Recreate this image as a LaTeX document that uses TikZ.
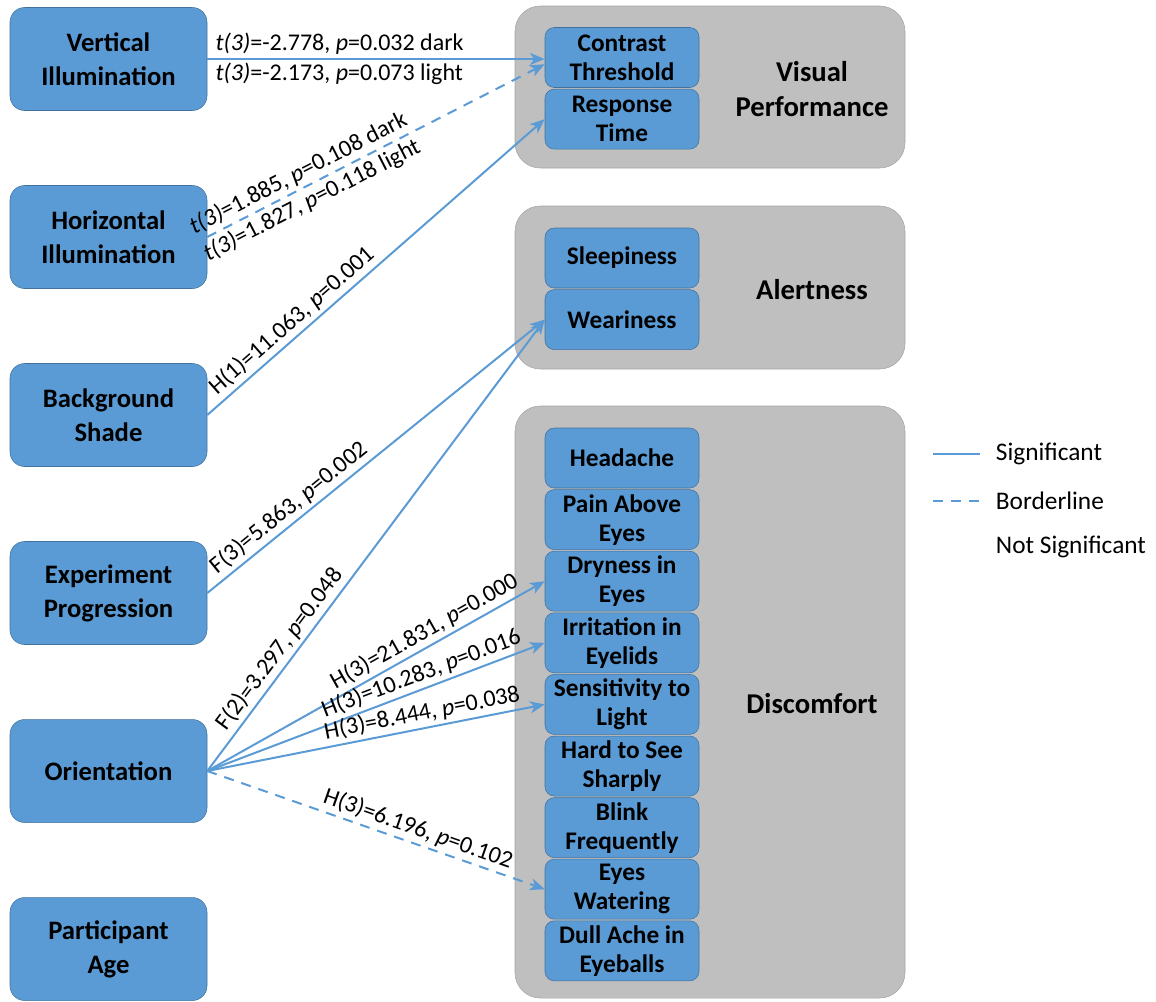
\documentclass[tikz,border=0pt]{standalone}
\usepackage{fontspec}
\setmainfont{Carlito}
\usetikzlibrary{arrows.meta,positioning}
\definecolor{boxblue}{HTML}{5B9BD5}
\definecolor{boxline}{HTML}{41719C}
\definecolor{groupgray}{HTML}{BFBFBF}
\definecolor{groupline}{HTML}{A5A5A5}

\begin{document}
\begin{tikzpicture}[->,>={Stealth[length=11pt,width=9pt,inset=3pt]},x=0.75pt,y=-0.75pt,node distance=133.5pt]
      \tikzstyle{factor}=[rectangle,rounded corners=11pt,fill=boxblue,draw=boxline,text=black,minimum width=147.75pt,minimum height=77.25pt,align=center,font=\fontsize{20}{25.5}\selectfont\bfseries]
      \tikzstyle{measure}=[rectangle,rounded corners=7pt,fill=boxblue,draw=boxline,text=black,minimum width=115.5pt,minimum height=45pt,align=center,font=\fontsize{19}{21.75}\selectfont\bfseries,node distance=46.2pt]
      \tikzstyle{group}=[rectangle,rounded corners=19pt,fill=groupgray,draw=groupline,minimum width=292.5pt]
      \tikzstyle{title}=[align=center,font=\fontsize{21.5}{26}\selectfont\bfseries]
      \tikzstyle{sig}=[draw=boxblue,line width=1.5pt]
      \tikzstyle{border}=[sig,dash pattern=on 7.5pt off 6pt]
      \tikzstyle{stat}=[font=\fontsize{18}{19.5}\selectfont,inner sep=2.5pt]
      \tikzstyle{legend}=[font=\fontsize{19}{22}\selectfont,inner sep=2pt,anchor=west]
      \useasboundingbox (0,0) rectangle (1156,1001);

      % factors
      \node[factor]         (VI) at (108.5,59) {Vertical\\Illumination};
      \node[factor]         (HI) [below of=VI] {Horizontal\\Illumination};
      \node[factor]         (BS) [below of=HI] {Background\\Shade};
      \node[factor]         (EP) [below of=BS] {Experiment\\Progression};
      \node[factor]         (OR) [below of=EP] {Orientation};
      \node[factor]         (PA) [below of=OR] {Participant\\Age};

      % groups
      \node[group,minimum height=121.5pt] (VPgroup) at (710,87) {};
      \node[group,minimum height=122.25pt] (ALgroup) at (710,287.5) {};
      \node[group,minimum height=444pt] (DCgroup) at (710,702) {};
      \node[title] (VPtitle) at (812,89) {Visual\\Performance};
      \node[title] (ALtitle) at (812,290) {Alertness};
      \node[title] (DCtitle) at (812,704) {Discomfort};

      % outcomes
      \node[measure]         (CT) at (622,57.5) {Contrast\\Threshold};
      \node[measure]         (RT) [below of=CT] {Response\\Time};
      \node[measure]         (SL) at (622,258)  {Sleepiness};
      \node[measure]         (WE) [below of=SL] {Weariness};
      \node[measure]         (HA) at (622,458)  {Headache};
      \node[measure]         (PE) [below of=HA] {Pain Above\\Eyes};
      \node[measure]         (DE) [below of=PE] {Dryness in\\Eyes};
      \node[measure]         (IE) [below of=DE] {Irritation in\\Eyelids};
      \node[measure]         (SE) [below of=IE] {Sensitivity to\\Light};
      \node[measure]         (HS) [below of=SE] {Hard to See\\Sharply};
      \node[measure]         (BF) [below of=HS] {Blink\\Frequently};
      \node[measure]         (EW) [below of=BF] {Eyes\\Watering};
      \node[measure]         (DA) [below of=EW] {Dull Ache in\\Eyeballs};

      \path (VI.east) edge [sig] node[stat,pos=0,anchor=south west,xshift=3pt] {\textit{t(3)}=-2.778, \textit{p}=0.032 dark}
                                  node[stat,pos=0,anchor=north west,xshift=3pt] {\textit{t(3)}=-2.173, \textit{p}=0.073 light} (VI.east -| CT.west)
            (HI.east) edge [border] node[stat,sloped,above,pos=0.29] {\textit{t(3)}=1.885, \textit{p}=0.108 dark}
                                    node[stat,sloped,below,pos=0.29] {\textit{t(3)}=1.827, \textit{p}=0.118 light} ([yshift=-5pt]CT.west)
            (BS.east) edge [sig] node[stat,sloped,above,pos=0.28] {H(1)=11.063, \textit{p}=0.001} (RT.west)
            (EP.east) edge [sig] node[stat,sloped,above,pos=0.27] {F(3)=5.863, \textit{p}=0.002} (WE.west)
            (OR.east) edge [sig] node[stat,sloped,above,pos=0.25] {F(2)=3.297, \textit{p}=0.048} (WE.west)
            (OR.east) edge [sig] node[stat,sloped,above,pos=0.665] {H(3)=21.831, \textit{p}=0.000} (DE.west)
            (OR.east) edge [sig] node[stat,sloped,above,pos=0.65] {H(3)=10.283, \textit{p}=0.016} (IE.west)
            (OR.east) edge [sig] node[stat,sloped,above,pos=0.645] {H(3)=8.444, \textit{p}=0.038} (SE.west)
            (OR.east) edge [border] node[stat,sloped,above,pos=0.61] {H(3)=6.196, \textit{p}=0.102} (EW.west);

      % legend
      \coordinate (sigA) at (933,454);
      \coordinate (sigB) at (980,454);
      \coordinate (bdlA) at (933,501);
      \coordinate (bdlB) at (980,501);
      \draw[-,sig] (sigA) -- (sigB);
      \draw[-,border] (bdlA) -- (bdlB);
      \node[legend] (sigtext) at (993,454) {Significant};
      \node[legend] (bdltext) at (993,501) {Borderline};
      \node[legend] (nsgtext) at (993,547) {Not Significant};
\end{tikzpicture}
\end{document}
